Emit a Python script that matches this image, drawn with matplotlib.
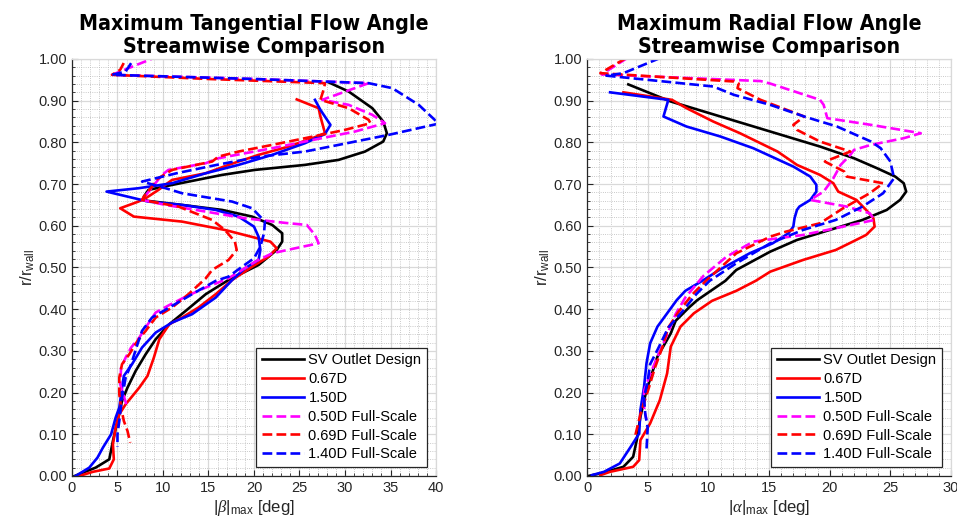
import matplotlib
matplotlib.use("Agg")
import matplotlib.pyplot as plt
from matplotlib.ticker import MultipleLocator, FormatStrFormatter

plt.rcParams["font.family"] = ["Liberation Sans", "DejaVu Sans"]
plt.rcParams["mathtext.fontset"] = "custom"
plt.rcParams["mathtext.rm"] = "Liberation Sans"
plt.rcParams["mathtext.it"] = "Liberation Serif:italic"

# ---- data: (|angle| [deg], r/r_wall) pairs ----
beta_sv = [(28.2, 0.944), (30.4, 0.922), (33.0, 0.882), (34.2, 0.850), (34.6, 0.822), (34.2, 0.802),
           (32.2, 0.778), (29.3, 0.758), (25.6, 0.746), (20.1, 0.734), (16.5, 0.722), (11.0, 0.698),
           (8.4, 0.686), (7.9, 0.670), (8.2, 0.660), (12.1, 0.650), (16.5, 0.638), (19.8, 0.622),
           (22.0, 0.602), (23.1, 0.582), (23.1, 0.562), (22.5, 0.542), (20.5, 0.506), (17.2, 0.470),
           (14.7, 0.436), (12.5, 0.396), (10.7, 0.364), (9.2, 0.328), (8.1, 0.292), (7.0, 0.252),
           (6.1, 0.212), (5.5, 0.180), (5.0, 0.132), (4.5, 0.084), (4.1, 0.040), (2.6, 0.020),
           (1.2, 0.008), (0.3, 0.0)]
beta_067 = [(24.7, 0.903), (27.1, 0.882), (27.3, 0.862), (27.8, 0.822), (26.4, 0.810), (23.8, 0.790),
            (20.5, 0.770), (17.2, 0.746), (14.7, 0.726), (11.0, 0.710), (9.5, 0.686), (8.1, 0.666),
            (7.3, 0.658), (5.3, 0.642), (6.8, 0.622), (12.1, 0.610), (16.8, 0.590), (21.8, 0.562),
            (22.5, 0.546), (21.6, 0.526), (19.8, 0.502), (17.6, 0.470), (15.8, 0.436), (13.9, 0.404),
            (12.1, 0.380), (10.7, 0.364), (9.6, 0.328), (9.0, 0.284), (8.3, 0.240), (7.4, 0.212),
            (5.9, 0.172), (5.2, 0.148), (4.8, 0.116), (4.5, 0.076), (4.6, 0.040), (4.1, 0.018),
            (2.3, 0.010), (0.8, 0.0)]
beta_150 = [(26.7, 0.902), (27.3, 0.878), (28.4, 0.842), (27.8, 0.820), (25.6, 0.798), (22.0, 0.770),
            (18.3, 0.746), (14.7, 0.726), (11.0, 0.702), (7.3, 0.690), (3.8, 0.682), (8.4, 0.658),
            (12.1, 0.650), (15.8, 0.638), (18.3, 0.622), (20.0, 0.598), (20.5, 0.574), (20.7, 0.542),
            (20.5, 0.518), (19.0, 0.498), (17.6, 0.470), (15.8, 0.428), (13.2, 0.388), (11.0, 0.368),
            (9.2, 0.344), (7.7, 0.308), (6.6, 0.268), (5.7, 0.240), (5.5, 0.212), (5.2, 0.164),
            (4.8, 0.140), (4.3, 0.100), (3.4, 0.068), (2.8, 0.044), (1.9, 0.020), (0.4, 0.0)]
beta_050fs = [(11.0, 1.020), (4.4, 0.962), (20.0, 0.952), (32.6, 0.942), (27.5, 0.902), (30.4, 0.890),
              (33.0, 0.866), (34.4, 0.846), (31.1, 0.826), (25.6, 0.802), (22.0, 0.786), (16.1, 0.762),
              (14.7, 0.750), (10.6, 0.734), (9.9, 0.722), (7.7, 0.662), (10.3, 0.650), (14.7, 0.634),
              (19.0, 0.618), (23.4, 0.607), (25.8, 0.602), (26.7, 0.578), (27.1, 0.558), (24.3, 0.545),
              (22.0, 0.534), (20.3, 0.516), (17.2, 0.474), (14.5, 0.450), (12.5, 0.430), (10.7, 0.410),
              (9.2, 0.392), (8.1, 0.356), (7.4, 0.332), (6.5, 0.308), (5.9, 0.284), (5.4, 0.260),
              (5.3, 0.220), (6.0, 0.170)]
beta_069fs = [(6.4, 1.020), (5.3, 0.974), (4.4, 0.962), (15.0, 0.952), (27.8, 0.942), (27.7, 0.930),
              (27.3, 0.902), (30.4, 0.882), (32.6, 0.854), (32.8, 0.846), (30.0, 0.830), (25.6, 0.810),
              (22.0, 0.794), (18.3, 0.778), (16.1, 0.766), (15.4, 0.754), (11.0, 0.734), (9.2, 0.710),
              (8.8, 0.694), (7.9, 0.670), (7.7, 0.662), (11.7, 0.646), (15.4, 0.614), (16.8, 0.590),
              (17.9, 0.562), (18.1, 0.542), (17.2, 0.518), (15.4, 0.494), (14.7, 0.474), (12.8, 0.436),
              (11.0, 0.404), (9.2, 0.380), (8.1, 0.348), (7.2, 0.324), (6.3, 0.292), (5.5, 0.268),
              (5.2, 0.236), (5.2, 0.196), (5.4, 0.164), (5.7, 0.132), (6.1, 0.108), (6.4, 0.080)]
beta_140fs = [(6.5, 0.990), (5.9, 0.970), (4.4, 0.962), (20.0, 0.952), (32.6, 0.942), (35.2, 0.930),
              (38.1, 0.890), (40.3, 0.845), (34.8, 0.818), (29.3, 0.794), (25.6, 0.778), (20.7, 0.766),
              (15.9, 0.746), (11.5, 0.726), (7.7, 0.706), (10.3, 0.690), (12.1, 0.678), (17.6, 0.658),
              (19.8, 0.642), (21.2, 0.610), (21.1, 0.582), (20.7, 0.550), (20.0, 0.522), (18.7, 0.502),
              (17.2, 0.478), (15.8, 0.468), (13.2, 0.436), (10.7, 0.404), (8.8, 0.380), (7.7, 0.348),
              (7.2, 0.316), (6.5, 0.268), (5.9, 0.236), (5.5, 0.188), (5.2, 0.132), (5.0, 0.100),
              (5.0, 0.070)]

alpha_sv = [(3.4, 0.939), (6.9, 0.898), (11.0, 0.862), (15.1, 0.826), (19.2, 0.790), (22.0, 0.762),
            (23.9, 0.738), (25.4, 0.718), (26.1, 0.702), (26.3, 0.682), (25.8, 0.662), (24.7, 0.638),
            (22.7, 0.614), (20.0, 0.590), (17.3, 0.566), (15.1, 0.538), (12.3, 0.494), (11.4, 0.468),
            (9.8, 0.436), (9.1, 0.422), (8.4, 0.404), (7.3, 0.372), (6.9, 0.342), (5.8, 0.286),
            (4.9, 0.206), (4.4, 0.142), (4.1, 0.086), (3.8, 0.046), (3.0, 0.022), (1.1, 0.006),
            (0.1, 0.0)]
alpha_067 = [(3.0, 0.920), (7.0, 0.902), (8.2, 0.882), (10.4, 0.850), (12.6, 0.822), (15.7, 0.778),
             (17.3, 0.746), (19.2, 0.722), (20.3, 0.702), (20.7, 0.682), (22.2, 0.662), (23.0, 0.638),
             (23.6, 0.618), (23.7, 0.598), (23.0, 0.578), (21.9, 0.562), (20.5, 0.542), (17.8, 0.518),
             (15.1, 0.490), (13.9, 0.468), (12.3, 0.444), (10.3, 0.420), (8.8, 0.390), (7.7, 0.358),
             (6.9, 0.310), (6.6, 0.246), (6.0, 0.182), (5.2, 0.126), (4.4, 0.086), (4.3, 0.038),
             (3.8, 0.022), (1.9, 0.010), (1.1, 0.002)]
alpha_150 = [(1.9, 0.920), (6.7, 0.902), (6.5, 0.882), (6.3, 0.862), (8.2, 0.838), (11.0, 0.814),
             (13.7, 0.786), (17.0, 0.742), (18.4, 0.718), (18.9, 0.698), (18.9, 0.682), (18.4, 0.662),
             (17.5, 0.646), (17.3, 0.638), (17.1, 0.618), (17.0, 0.598), (16.6, 0.582), (15.3, 0.558),
             (13.4, 0.534), (10.9, 0.494), (9.5, 0.468), (8.1, 0.444), (7.4, 0.422), (5.8, 0.358),
             (5.2, 0.318), (4.9, 0.270), (4.7, 0.214), (4.4, 0.158), (4.3, 0.102), (3.6, 0.070),
             (2.7, 0.030), (1.4, 0.010), (0.4, 0.002)]
alpha_050fs = [(3.3, 1.002), (1.2, 0.963), (14.3, 0.947), (15.1, 0.941), (19.2, 0.902), (19.5, 0.890),
               (19.8, 0.858), (23.4, 0.842), (27.5, 0.822), (26.1, 0.810), (23.4, 0.794), (22.0, 0.782),
               (21.7, 0.770), (20.9, 0.746), (20.3, 0.714), (19.5, 0.682), (18.4, 0.662), (21.4, 0.646),
               (23.3, 0.630), (23.7, 0.614), (21.1, 0.598), (17.8, 0.578), (13.7, 0.562), (11.5, 0.526),
               (9.6, 0.480), (8.1, 0.428), (7.3, 0.388), (6.5, 0.332), (5.9, 0.292), (5.2, 0.244),
               (4.7, 0.204), (4.7, 0.164), (4.9, 0.134)]
alpha_069fs = [(3.2, 1.002), (1.1, 0.966), (12.1, 0.946), (12.5, 0.941), (12.4, 0.930), (14.3, 0.902),
               (17.9, 0.862), (17.0, 0.842), (17.3, 0.830), (19.2, 0.802), (21.7, 0.778), (19.6, 0.754),
               (21.2, 0.730), (21.4, 0.718), (24.4, 0.702), (23.3, 0.678), (21.1, 0.642), (19.2, 0.606),
               (16.4, 0.586), (15.1, 0.574), (12.3, 0.534), (9.8, 0.468), (8.7, 0.436), (7.6, 0.396),
               (6.7, 0.356), (6.2, 0.308), (5.6, 0.260), (5.1, 0.212), (4.4, 0.148), (4.0, 0.100),
               (4.0, 0.090)]
alpha_140fs = [(6.0, 1.002), (3.0, 0.966), (1.6, 0.960), (10.4, 0.934), (12.1, 0.914), (15.1, 0.890),
               (17.9, 0.862), (20.6, 0.838), (23.4, 0.802), (24.2, 0.786), (25.0, 0.754), (25.3, 0.714),
               (24.4, 0.678), (22.7, 0.646), (20.5, 0.614), (17.8, 0.590), (15.1, 0.558), (12.3, 0.510),
               (10.1, 0.468), (9.0, 0.436), (7.9, 0.396), (6.7, 0.356), (5.9, 0.308), (5.2, 0.268),
               (5.0, 0.228), (4.7, 0.188), (4.8, 0.148), (5.0, 0.116), (4.9, 0.062)]

labels = ["SV Outlet Design", "0.67D", "1.50D", "0.50D Full-Scale", "0.69D Full-Scale", "1.40D Full-Scale"]
colors = ["#000000", "#ff0000", "#0000ff", "#ff00ff", "#ff0000", "#0000ff"]
styles = ["-", "-", "-", "--", "--", "--"]

titles = ["Maximum Tangential Flow Angle\nStreamwise Comparison",
          "Maximum Radial Flow Angle\nStreamwise Comparison"]
xlabels = [r"|$\beta$|$_{\mathrm{max}}$ [deg]", r"|$\alpha$|$_{\mathrm{max}}$ [deg]"]
xmax = [40, 30]

panels = [
    [beta_sv, beta_067, beta_150, beta_050fs, beta_069fs, beta_140fs],
    [alpha_sv, alpha_067, alpha_150, alpha_050fs, alpha_069fs, alpha_140fs],
]

fig = plt.figure(figsize=(9.57, 5.27), dpi=100)
rects = [[0.0752, 0.0968, 0.3804, 0.7913], [0.6134, 0.0968, 0.3804, 0.7913]]

for i, series in enumerate(panels):
    ax = fig.add_axes(rects[i])
    for data, lab, c, ls in zip(series, labels, colors, styles):
        xs = [p[0] for p in data]
        ys = [p[1] for p in data]
        ax.plot(xs, ys, color=c, linestyle=ls, linewidth=1.9, label=lab)

    ax.set_xlim(0, xmax[i])
    ax.set_ylim(0, 1.0)
    ax.xaxis.set_major_locator(MultipleLocator(5))
    ax.xaxis.set_minor_locator(MultipleLocator(1))
    ax.yaxis.set_major_locator(MultipleLocator(0.1))
    ax.yaxis.set_minor_locator(MultipleLocator(0.02))
    ax.yaxis.set_major_formatter(FormatStrFormatter("%.2f"))

    ax.grid(which="major", color="#d9d9d9", linewidth=0.9)
    ax.grid(which="minor", color="#b8b8b8", linestyle=":", linewidth=0.6)
    ax.set_axisbelow(True)

    ax.tick_params(which="both", direction="in", top=False, right=False,
                   colors="#262626", labelsize=10.5)
    ax.tick_params(which="major", length=4, width=0.8)
    ax.tick_params(which="minor", length=2, width=0.6)
    for s in ["left", "bottom"]:
        ax.spines[s].set_color("#262626")
        ax.spines[s].set_linewidth(0.9)
    for s in ["top", "right"]:
        ax.spines[s].set_color("#d9d9d9")
        ax.spines[s].set_linewidth(0.9)

    ax.set_xlabel(xlabels[i], fontsize=12, color="#262626", labelpad=2)
    ax.set_ylabel(r"r/r$_{\mathrm{wall}}$", fontsize=12, color="#262626", labelpad=1)
    ax.set_title(titles[i], fontsize=15.3, fontweight="bold", family=["DejaVu Sans"],
                 fontstretch="condensed", pad=4, linespacing=1.2)

    leg = ax.legend(loc="lower right", fontsize=10.5, frameon=True, fancybox=False,
                    edgecolor="#262626", framealpha=1, handlelength=2.9, handletextpad=0.3,
                    labelspacing=0.33, borderpad=0.4, borderaxespad=0.6)
    leg.get_frame().set_linewidth(0.9)

fig.savefig("out.png", dpi=100)
